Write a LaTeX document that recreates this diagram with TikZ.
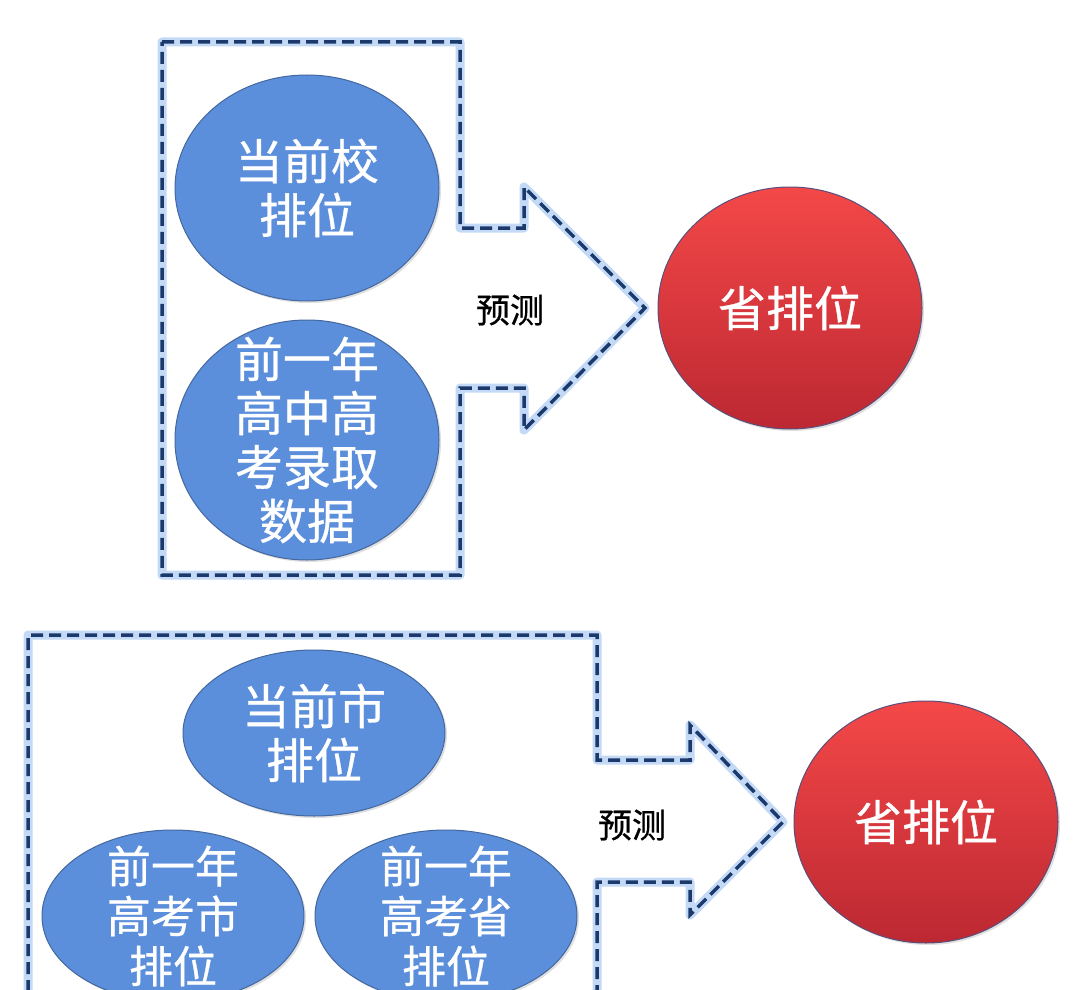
\documentclass[tikz,border=0pt]{standalone}
\usepackage{fontspec}
\setmainfont{Noto Sans CJK SC}[FakeBold=0.7]
\usetikzlibrary{shapes.geometric, shadows, positioning}
\definecolor{ellblue}{HTML}{5B8EDB}
\definecolor{elledge}{HTML}{44689E}
\definecolor{navy}{HTML}{1B3A6B}
\definecolor{glowblue}{HTML}{C3D9F6}
\definecolor{redtop}{HTML}{F44848}
\definecolor{redbot}{HTML}{BC2832}
\definecolor{rededge}{HTML}{5A4E7A}

\begin{document}
\begin{tikzpicture}[
    x=1pt, y=-1pt,
    factor/.style={ellipse, draw=elledge, line width=1pt, fill=ellblue, text=white, align=center, inner sep=0pt,
        font=\fontsize{48}{54}\selectfont, drop shadow={opacity=0.25, shadow xshift=2pt, shadow yshift=-2pt}},
    target/.style={ellipse, draw=rededge, line width=1pt, top color=redtop, bottom color=redbot, text=white, inner sep=0pt,
        minimum width=264pt, minimum height=242pt, font=\fontsize{48}{54}\selectfont,
        drop shadow={opacity=0.25, shadow xshift=2pt, shadow yshift=-2pt}},
    glow/.style={draw=glowblue, line width=9pt, line join=round},
    frame/.style={draw=navy, line width=3.5pt, dash pattern=on 12pt off 6pt, line join=miter},
    annotation/.style={font=\fontsize{34}{40}\selectfont, text=black}
]
\clip (0,0) rectangle (1080,990);
\fill[white] (0,0) rectangle (1080,990);

% Upper block: school rank
\draw[glow] (162,42) -- (460,42) -- (460,228) -- (524,228) -- (524,187) -- (645,308) -- (524,430) -- (524,388) -- (460,388) -- (460,575) -- (162,575) -- cycle;
\draw[frame] (162,42) -- (460,42) -- (460,228) -- (524,228) -- (524,187) -- (645,308) -- (524,430) -- (524,388) -- (460,388) -- (460,575) -- (162,575) -- cycle;

\node[factor, minimum width=264pt, minimum height=226pt] (school) at (307,188) {当前校\\排位};
\node[factor, minimum width=264pt, minimum height=240pt, inner ysep=-30pt] (history) at (307,440) {前一年\\高中高\\考录取\\数据};
\node[annotation] (predict-up) at (510,310) {预测};
\node[target] (province-up) at (790,308) {省排位};

% Lower block: city rank
\draw[glow] (28,1010) -- (28,635) -- (597,635) -- (597,760) -- (690,760) -- (690,725) -- (783,822) -- (690,915) -- (690,882) -- (597,882) -- (597,1010);
\draw[frame] (28,1010) -- (28,635) -- (597,635) -- (597,760) -- (690,760) -- (690,725) -- (783,822) -- (690,915) -- (690,882) -- (597,882) -- (597,1010);

\node[factor, minimum width=262pt, minimum height=166pt] (city) at (314,733) {当前市\\排位};
\node[factor, minimum width=262pt, minimum height=172pt, inner ysep=-20pt, font=\fontsize{44}{50}\selectfont] (city-last) at (173,916) {前一年\\高考市\\排位};
\node[factor, minimum width=262pt, minimum height=172pt, inner ysep=-20pt, font=\fontsize{44}{50}\selectfont] (prov-last) at (446,916) {前一年\\高考省\\排位};
\node[annotation] (predict-low) at (632,825) {预测};
\node[target] (province-low) at (926,822) {省排位};

\end{tikzpicture}
\end{document}
